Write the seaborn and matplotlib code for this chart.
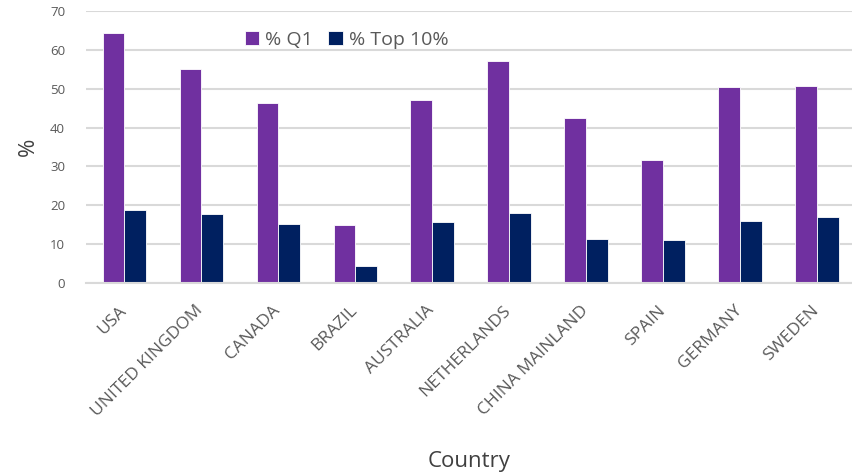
import matplotlib
matplotlib.use("Agg")
import matplotlib.pyplot as plt
import matplotlib.transforms as mtransforms
import seaborn as sns
import pandas as pd

countries = ["USA", "UNITED KINGDOM", "CANADA", "BRAZIL", "AUSTRALIA",
             "NETHERLANDS", "CHINA MAINLAND", "SPAIN", "GERMANY", "SWEDEN"]
q1 = [64.3, 55.2, 46.2, 15.0, 47.0, 57.1, 42.4, 31.6, 50.4, 50.6]
top10 = [18.9, 17.7, 15.1, 4.5, 15.8, 18.1, 11.3, 11.1, 15.9, 17.0]
series = ["% Q1", "% Top 10%"]
colors = ["#7030A0", "#002060"]

df = pd.DataFrame({
    "Country": countries * 2,
    "value": q1 + top10,
    "series": [series[0]] * len(countries) + [series[1]] * len(countries),
})

sns.set_theme(style="white")
plt.rcParams["font.family"] = ["Open Sans", "DejaVu Sans"]

fig = plt.figure(figsize=(8.52, 4.72), dpi=100)
ax = fig.add_axes([86 / 852, 1 - 283 / 472, (852 - 86) / 852, (283 - 11) / 472])

sns.barplot(data=df, x="Country", y="value", hue="series", palette=colors,
            width=0.57, gap=0, edgecolor="white", linewidth=0.6, ax=ax,
            saturation=1)

ax.set_ylim(0, 70)
ax.set_yticks(range(0, 71, 10))
ax.set_xlim(-0.5, 9.45)
ax.yaxis.grid(True, color="#D9D9D9", linewidth=1.5)
ax.set_axisbelow(True)
for s in ["top", "right", "left"]:
    ax.spines[s].set_visible(False)
ax.spines["bottom"].set_color("#D9D9D9")
ax.spines["bottom"].set_linewidth(1.5)
ax.tick_params(axis="both", length=0, colors="#595959")
ax.tick_params(axis="y", labelsize=9.5, pad=15)
ax.tick_params(axis="x", labelsize=12.5, pad=14)

# Rotated category labels, nudged slightly right of their ticks
shift = mtransforms.ScaledTranslation(5 / 100, 0, fig.dpi_scale_trans)
for lbl in ax.get_xticklabels():
    lbl.set_rotation(45)
    lbl.set_ha("right")
    lbl.set_transform(lbl.get_transform() + shift)

ax.set_ylabel("%", fontsize=16, color="#404040", labelpad=8)
ax.set_xlabel("Country", fontsize=16, color="#404040", labelpad=22)

ax.legend(loc="center", bbox_to_anchor=(0.34, 0.895), ncol=2, frameon=False,
          fontsize=14, handlelength=0.75, handleheight=0.75,
          columnspacing=0.8, handletextpad=0.3, labelcolor="#595959")

fig.savefig("out.png", dpi=100)
